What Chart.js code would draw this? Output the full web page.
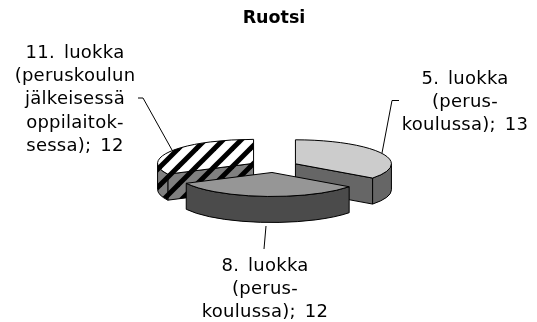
<!DOCTYPE html>
<html>
<head>
<meta charset="utf-8">
<title>Ruotsi</title>
<script src="https://cdn.jsdelivr.net/npm/chart.js@4"></script>
<style>
    html, body { margin: 0; padding: 0; background: #fff; }
    canvas { display: block; }
</style>
</head>
<body>
<canvas id="pieChart" width="537" height="322"></canvas>
<script>
// Chart data
const chartTitle = 'Ruotsi';
const categories = ['5. luokka (perus-koulussa)', '8. luokka (perus-koulussa)', '11. luokka (peruskoulun jälkeisessä oppilaitok-sessa)'];
const values = [13, 12, 12];
const categoryLines = [
    ['5. luokka', '(perus-', 'koulussa)'],
    ['8. luokka', '(perus-', 'koulussa)'],
    ['11. luokka', '(peruskoulun', 'jälkeisessä', 'oppilaitok-', 'sessa)']
];

// Look of the fake 3D pie
const SQUASH = 0.25;
const DEPTH = 26;
const FONT = '"DejaVu Sans", Verdana, sans-serif';
const labelBoxes = [
    { x: 465, y: 79, leader: [[399, 100.5], [392, 100.5], [382, 153]] },
    { x: 265, y: 266, leader: [[264, 249], [266, 226]] },
    { x: 75, y: 53, leader: [[138, 98], [143, 98], [172, 150]] }
];

function hatch(bg) {
    const size = 18;
    const tile = document.createElement('canvas');
    tile.width = size;
    tile.height = size;
    const c = tile.getContext('2d');
    c.fillStyle = bg;
    c.fillRect(0, 0, size, size);
    c.strokeStyle = '#000';
    c.lineWidth = 5;
    [-size, 0, size].forEach(d => {
        c.beginPath();
        c.moveTo(d + 3 - 2, size + 2);
        c.lineTo(d + 3 + size + 2, -2);
        c.stroke();
    });
    return c.createPattern(tile, 'repeat');
}

const topColors = ['#cccccc', '#969696', hatch('#ffffff')];
const wallColors = ['#666666', '#4b4b4b', hatch('#808080')];

function apexOf(arc) {
    const mid = (arc.startAngle + arc.endAngle) / 2;
    const off = arc.options.offset;
    return { x: arc.x + Math.cos(mid) * off, y: arc.y + Math.sin(mid) * off * SQUASH };
}

function paint(ctx, fill) {
    ctx.fillStyle = fill;
    ctx.fill();
    ctx.stroke();
}

function drawSlice(ctx, arc, i) {
    const a = apexOf(arc);
    const r = arc.outerRadius;
    const ry = r * SQUASH;
    const s = arc.startAngle;
    const e = arc.endAngle;

    // cut faces turned towards the viewer
    [[s, s - Math.PI / 2], [e, e + Math.PI / 2]].forEach(([ang, normal]) => {
        if (Math.sin(normal) <= 0.001) return;
        const px = a.x + Math.cos(ang) * r;
        const py = a.y + Math.sin(ang) * ry;
        ctx.beginPath();
        ctx.moveTo(a.x, a.y);
        ctx.lineTo(px, py);
        ctx.lineTo(px, py + DEPTH);
        ctx.lineTo(a.x, a.y + DEPTH);
        ctx.closePath();
        paint(ctx, wallColors[i]);
    });

    // outer wall, only the front half of the ellipse
    const from = Math.max(s, 0);
    const to = Math.min(e, Math.PI);
    if (to > from) {
        ctx.beginPath();
        ctx.ellipse(a.x, a.y, r, ry, 0, from, to);
        ctx.ellipse(a.x, a.y + DEPTH, r, ry, 0, to, from, true);
        ctx.closePath();
        paint(ctx, wallColors[i]);
    }

    // top
    ctx.beginPath();
    ctx.moveTo(a.x, a.y);
    ctx.ellipse(a.x, a.y, r, ry, 0, s, e);
    ctx.closePath();
    paint(ctx, topColors[i]);
}

const pie3d = {
    id: 'pie3d',
    beforeDatasetsDraw(chart) {
        const ctx = chart.ctx;
        const arcs = chart.getDatasetMeta(0).data;
        ctx.save();
        ctx.strokeStyle = '#000';
        ctx.lineWidth = 1;
        ctx.lineJoin = 'round';
        [0, 2, 1].forEach(i => drawSlice(ctx, arcs[i], i));
        ctx.restore();
        return false;
    },
    afterDraw(chart) {
        const ctx = chart.ctx;
        ctx.save();
        ctx.fillStyle = '#000';
        ctx.strokeStyle = '#000';
        ctx.lineWidth = 1;
        ctx.font = '18px ' + FONT;
        ctx.letterSpacing = '0.25px';
        ctx.wordSpacing = '3px';
        ctx.textAlign = 'center';
        ctx.textBaseline = 'middle';
        categoryLines.forEach((lines, i) => {
            const box = labelBoxes[i];
            lines.forEach((line, n) => {
                const last = n === lines.length - 1;
                ctx.fillText(last ? line + '; ' + values[i] : line, box.x, box.y + n * 23.4);
            });
            ctx.beginPath();
            box.leader.forEach(([x, y], n) => n ? ctx.lineTo(x, y) : ctx.moveTo(x, y));
            ctx.stroke();
        });
        ctx.restore();
    }
};

new Chart(document.getElementById('pieChart'), {
    type: 'pie',
    data: {
        labels: categories,
        datasets: [{ data: values, offset: 24, borderWidth: 0, radius: 96 }]
    },
    options: {
        responsive: false,
        animation: false,
        events: [],
        layout: { padding: { left: 11, right: 0, top: 0, bottom: 18 } },
        plugins: {
            legend: { display: false },
            tooltip: { enabled: false },
            title: {
                display: true,
                text: chartTitle,
                color: '#000',
                font: { family: FONT, size: 17.5, weight: 'bold' },
                padding: { top: 8, bottom: 0 }
            }
        }
    },
    plugins: [pie3d]
});
</script>
</body>
</html>
